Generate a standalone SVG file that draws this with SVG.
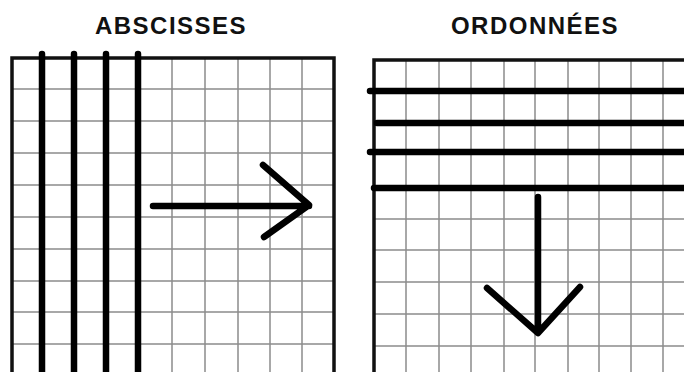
<svg xmlns="http://www.w3.org/2000/svg" width="684" height="372" viewBox="0 0 684 372">
  <style>
    .title { font-family: "Liberation Sans", Arial, sans-serif; font-weight: bold; font-size: 24px; letter-spacing: 1.5px; fill: #111; text-anchor: middle; }
    .grid { stroke: #8c8c8c; stroke-width: 1.5; fill: none; }
    .border { stroke: #111; stroke-width: 3.5; fill: none; }
    .thick { stroke: #000; stroke-width: 6.5; stroke-linecap: round; fill: none; }
    .arrow { stroke: #000; stroke-width: 6.5; stroke-linecap: round; stroke-linejoin: round; fill: none; }
  </style>
  <rect width="684" height="372" fill="#fff"/>

  <g id="abscisses">
    <text class="title" x="171" y="34">ABSCISSES</text>
    <g class="grid">
      <path d="M42,58V372M74,58V372M106,58V372M138,58V372M172,58V372M205,58V372M238,58V372M270,58V372M302,58V372"/>
      <path d="M12,89H334M12,121H334M12,153H334M12,185H334M12,217H334M12,249H334M12,281H334M12,312H334M12,344H334"/>
    </g>
    <path class="border" d="M12,372V58H334V372"/>
    <path class="thick" d="M42,54V375M74,54V375M106,54V375M138,54V375"/>
    <path class="arrow" d="M153,206H309M263,165L309,205L264,237"/>
  </g>

  <g id="ordonnees">
    <text class="title" x="535" y="34">ORDONNÉES</text>
    <g class="grid">
      <path d="M406,60V372M439,60V372M471,60V372M504,60V372M535,60V372M568,60V372M599,60V372M631,60V372M663,60V372"/>
      <path d="M374,219H684M374,250H684M374,282H684M374,314H684M374,346H684"/>
    </g>
    <path class="border" d="M374,372V60H686"/>
    <path class="thick" d="M370,91H690M377,123H690M370,152H690M374,188H690"/>
    <path class="arrow" d="M538,197V332M487,288L538,333L580,287"/>
  </g>
</svg>
